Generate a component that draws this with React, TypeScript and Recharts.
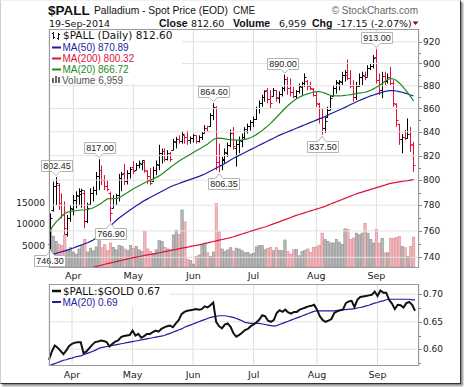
import React from 'react';
import {
  ComposedChart,
  LineChart,
  Bar,
  Line,
  XAxis,
  YAxis,
  CartesianGrid,
  ReferenceLine,
  ReferenceDot,
} from 'recharts';

// daily bars, 20-Mar-2014 .. 19-Sep-2014 (index = trading day)
const highs = [
  773.5, 798.7, 802.45, 797.4, 789.4, 783, 772.3, 780, 788, 791,
  793.4, 793, 792, 782, 793.4, 794.7, 806.6, 817, 812, 804,
  800, 790.8, 788, 789, 805, 806.6, 813.3, 808, 810.7, 815.5,
  814, 816, 816, 816, 808, 810, 811, 816, 829, 826,
  826, 824.6, 823, 834, 835.7, 837, 840, 837, 841, 836,
  838, 837, 837, 840, 845.6, 845, 856, 864.6, 862, 830,
  819, 826, 831, 842, 844, 833, 836, 838.5, 844, 847,
  850, 853, 861.5, 867, 872, 876, 878, 876, 878, 876,
  875, 879, 890, 888, 886.5, 879, 876, 882, 883.6, 891,
  885, 883.6, 878, 875, 865, 860, 852, 861.5, 871.5, 880.6,
  885, 885, 892.5, 894, 903.7, 894, 885, 883.6, 891, 892.5,
  892.5, 898.5, 900, 907.6, 913, 891, 892.5, 892.5, 891, 897,
  885, 864.5, 847, 838, 841.5, 851.4, 844, 831.6,
];
const lows = [
  746.3, 775, 780, 776.3, 769.7, 757, 755.7, 767, 772, 777.6,
  780.2, 778, 762, 766, 780, 783, 788, 792, 796, 792,
  791, 766.9, 777.6, 780, 782.9, 791, 796, 796.5, 801.3, 805,
  808, 809.5, 808, 806, 797, 796, 798.6, 804, 808, 813.5,
  815, 816, 815, 824.6, 826, 830, 830, 830, 829, 830,
  831, 830, 831, 833, 839, 840, 844, 850, 808, 806.35,
  808, 813.5, 819, 827, 825, 811, 822, 827, 833, 838.5,
  841, 844, 850, 855.7, 861.5, 866, 864.5, 860, 870.5, 866,
  864.5, 870.5, 875, 872, 870.5, 869, 869, 873, 872, 879,
  876, 876, 870.5, 861.5, 847, 837.5, 839, 852, 858.7, 870.5,
  873, 876, 880.6, 883.6, 885, 877.7, 866, 867.4, 879, 880.6,
  885, 888, 894, 895.5, 882, 871.8, 869, 880.6, 882, 880.6,
  861.5, 844.3, 829, 821.9, 833, 834.4, 823, 806.7,
];
const opens = [
  750, 776, 795, 796, 782, 773, 758, 770, 777, 784,
  787, 789, 790, 768, 781, 790, 792, 803, 808, 800,
  795, 790, 778, 786, 788, 802, 806, 799, 806, 811,
  808, 812, 813, 815, 807, 803, 799, 808, 812, 822,
  824, 817, 822, 825, 831, 834, 832, 837, 836, 833,
  835, 837, 832, 836, 839, 843, 845, 854, 861, 815,
  812, 816, 822, 829, 839, 826, 830, 832, 836, 841,
  845, 848, 851, 860, 865, 870, 876, 868, 871, 876,
  869, 873, 878, 886, 878, 874, 871, 875, 879, 882,
  884, 880, 877, 872, 864, 852, 843, 853, 859, 871,
  878, 882, 883, 890, 890, 887, 880, 870, 880, 888,
  889, 888, 896, 898, 906, 885, 876, 889, 884, 888,
  882, 864, 847, 834, 836, 835, 838, 829,
];
const closes = [
  770, 795, 798, 782, 772, 762, 770, 778, 784, 788,
  791, 792, 768, 778, 790, 792, 803, 808, 800, 795,
  793, 774, 786, 788, 802, 805, 799, 806, 809, 807,
  812, 814, 816, 808, 803, 798, 808, 813, 822, 824,
  817, 822, 817, 832, 834, 832, 838, 836, 833, 835,
  837, 832, 836, 839, 843, 841, 854, 861, 815, 812,
  817, 823, 829, 839, 828, 830, 833, 836, 842, 845,
  848, 851, 860, 865, 870, 875, 868, 865, 876, 870,
  873, 878, 886, 878, 874, 871, 875, 880, 882, 888,
  880, 878, 872, 865, 852, 843, 849, 859, 869, 878,
  883, 884, 890, 892, 887, 880, 870, 880, 888, 890,
  888, 896, 898, 905, 885, 876, 889, 884, 888, 882,
  865, 850, 834, 836, 835, 838, 829.75, 812.6,
];
const volumes = [
  8700, 7200, 6000, 5300, 5000, 7400, 4000, 4500, 3500, 3000,
  4200, 5000, 6400, 3500, 4400, 3800, 4700, 6600, 4500, 5200,
  3800, 5600, 4600, 4000, 5000, 4800, 4200, 3800, 5000, 4300,
  4800, 4000, 3600, 8300, 4200, 3600, 3200, 4000, 6200, 6000,
  4600, 4200, 4000, 7500, 8600, 7600, 13300, 10500, 1800, 1500,
  700, 2500, 2800, 5400, 5600, 3300, 2500, 3500, 14800, 8200,
  4200, 3600, 4000, 4500, 3700, 4400, 4200, 3800, 3300, 3400,
  3000, 3200, 4700, 5000, 5000, 4000, 4300, 4600, 3800, 4500,
  3900, 3800, 6300, 3600, 3000, 4000, 4100, 2600, 3600, 3900,
  4200, 3400, 4600, 4700, 5100, 7900, 6400, 6000, 5600, 5600,
  6400, 5800, 5300, 8900, 8700, 6400, 6750, 7900, 7500, 7900,
  10200, 7900, 6400, 5600, 8700, 5600, 6700, 3300, 3300, 6700,
  6700, 6900, 7100, 4800, 4500, 2500, 4800, 6959,
];
const ma20 = [
  761, 764, 767, 769, 771.5, 773.5, 774.5, 775, 775.5, 775.7, 776,
  776.2, 776.4, 776.7, 777.2, 778, 779.2, 780.6, 782, 783.6, 785, 785.4,
  785.2, 785.4, 786, 787.2, 788.6, 790, 791.5, 793, 794.2, 795.4, 796.6,
  797.8, 799, 800, 801, 802.2, 803.4, 805, 806.8, 808.6, 810.4, 812.2, 814,
  815.6, 817, 818.4, 819.8, 821.2, 822.6, 824, 825.4, 826.8, 828.2, 829.8,
  831.5, 833.5, 834.5, 834.6, 834.4, 834, 833.6, 833.4, 833.2,
  833, 833, 833.2, 833.6, 834.2, 835, 836.2, 837.6, 839.2, 841, 843, 845,
  847.2, 849.6, 852.2, 854.8, 857.4, 860, 862.4, 864.6, 866.6, 868.4, 869.8, 871,
  872, 872.8, 873.6, 874.4, 874.9, 874.8, 874.2, 873.4, 872.4, 871.6, 871.2,
  871, 871, 871.2, 871.5, 871.8, 872.2, 872.6, 873, 873.4, 873.8, 874.2,
  875, 876, 877.2, 878.6, 880.2, 882, 884, 885.6, 886.4,
  886, 884.6, 882.4, 879.8, 876.8, 873.6, 870.2, 866.72,
];
const ma50 = [
  742, 742.5, 743, 743.6, 744.2, 744.8, 745.4, 746.2, 747, 747.8, 748.6,
  749.4, 750.2, 751, 752, 753, 754.6, 756.4, 758.2, 760, 762, 764,
  766, 768, 770, 771.6, 773.2, 774.8, 776.4, 778, 779.5, 781, 782.4,
  783.8, 785, 786.2, 787.4, 788.6, 789.8, 791, 792.2, 793.4, 794.6, 795.6, 796.5,
  797.3, 798.2, 799, 799.8, 800.6, 801.4, 802.2, 803, 804, 805, 806.2,
  807.4, 808.6, 809.8, 811, 812.2, 813.6, 815, 816.4, 817.8,
  819, 820.2, 821.4, 822.6, 823.8, 825, 826.2, 827.4, 828.6, 829.8, 831, 832.2,
  833.4, 834.6, 835.8, 837, 838, 839, 840, 841, 842, 843, 844, 845,
  846, 847, 848, 849, 850, 851, 852, 853, 854.2, 855.4, 856.5,
  857.6, 858.7, 859.8, 861, 862.2, 863.4, 864.6, 865.8, 867, 868, 869,
  870, 871, 871.8, 872.6, 873.4, 874.2, 875, 875.5, 875.7,
  875.6, 875.3, 874.8, 874.2, 873.5, 872.7, 871.8, 870.89,
];
const ma200 = [
  724.5, 725, 725.6, 726.1, 726.7, 727.2, 727.8, 728.3, 728.9, 729.4, 730, 730.5, 731, 731.6,
  732.1, 732.6, 733.2, 733.7, 734.2, 734.8, 735.3, 735.8, 736.3, 736.8, 737.3, 737.8, 738.3, 738.8, 739.3, 739.8,
  740.2, 740.6, 741, 741.4, 741.8, 742.2, 742.6, 743, 743.4, 743.8, 744.2, 744.6, 745.2,
  745.6, 746, 746.5, 746.9, 747.3, 747.7, 748.2, 748.6, 749, 749.4, 749.8, 750.4,
  750.9, 751.4, 751.9, 752.4, 752.9, 753.4, 753.9, 754.4, 754.9, 755.5,
  756.2, 756.9, 757.6, 758.3, 759, 759.7, 760.4, 761.1, 761.8, 762.4, 763,
  763.8, 764.6, 765.4, 766.2, 767, 767.9, 768.7, 769.5, 770.4, 771.2, 772,
  772.7, 773.4, 774.1, 774.8, 775.5, 776.2, 776.9, 777.6, 778.3, 779,
  780, 780.9, 781.8, 782.7, 783.6, 784.5, 785.4, 786.3, 787.2, 788.1, 789,
  789.7, 790.4, 791.1, 791.8, 792.5, 793.2, 793.9, 794.6, 795.3, 796, 796.8,
  797.3, 797.7, 798.1, 798.5, 798.9, 799.3, 799.6, 800, 800.32,
];
// $PALL:$GOLD ratio and its 20-day average
const ratio = [
  0.581, 0.596, 0.607, 0.603, 0.597, 0.591, 0.598, 0.606, 0.61, 0.612,
  0.613, 0.613, 0.593, 0.596, 0.602, 0.608, 0.613, 0.614, 0.616, 0.615,
  0.613, 0.605, 0.61, 0.614, 0.616, 0.622, 0.624, 0.625, 0.626, 0.634,
  0.625, 0.628, 0.621, 0.624, 0.628, 0.628, 0.631, 0.634, 0.632, 0.637,
  0.64, 0.642, 0.643, 0.64, 0.647, 0.653, 0.664, 0.668, 0.67, 0.671,
  0.672, 0.673, 0.672, 0.673, 0.678, 0.676, 0.68, 0.685, 0.65, 0.642,
  0.638, 0.645, 0.647, 0.641, 0.629, 0.623, 0.626, 0.63, 0.635, 0.637,
  0.642, 0.645, 0.649, 0.654, 0.662, 0.66, 0.652, 0.65, 0.653, 0.666,
  0.671, 0.668, 0.672, 0.667, 0.665, 0.668, 0.668, 0.672, 0.674, 0.676,
  0.678, 0.679, 0.681, 0.672, 0.66, 0.653, 0.65, 0.652, 0.655, 0.666,
  0.669, 0.671, 0.672, 0.684, 0.687, 0.688, 0.677, 0.69, 0.695, 0.696,
  0.697, 0.698, 0.699, 0.705, 0.697, 0.707, 0.703, 0.703, 0.69, 0.683,
  0.673, 0.681, 0.68, 0.676, 0.684, 0.686, 0.681, 0.67,
];
const ratioMa20 = [
  0.57, 0.572, 0.574, 0.576, 0.578, 0.58, 0.581, 0.583, 0.584, 0.586,
  0.587, 0.588, 0.59, 0.592, 0.594, 0.596, 0.598, 0.601, 0.603, 0.604,
  0.605, 0.606, 0.607, 0.608, 0.609, 0.61, 0.611, 0.612, 0.613, 0.614,
  0.615, 0.616, 0.617, 0.618, 0.619, 0.62, 0.621, 0.622, 0.623, 0.624,
  0.625, 0.627, 0.629, 0.631, 0.633, 0.635, 0.637, 0.64, 0.642, 0.644,
  0.646, 0.648, 0.65, 0.652, 0.654, 0.656, 0.658, 0.659, 0.66, 0.661,
  0.661, 0.661, 0.66, 0.659, 0.658, 0.656, 0.654, 0.652, 0.649, 0.648,
  0.647, 0.647, 0.647, 0.647, 0.646, 0.645, 0.644, 0.643, 0.642, 0.643,
  0.645, 0.647, 0.649, 0.651, 0.653, 0.655, 0.657, 0.659, 0.661, 0.663,
  0.665, 0.667, 0.669, 0.67, 0.67, 0.67, 0.67, 0.67, 0.67, 0.67,
  0.671, 0.671, 0.672, 0.672, 0.673, 0.673, 0.674, 0.675, 0.676, 0.677,
  0.679, 0.68, 0.682, 0.684, 0.685, 0.687, 0.688, 0.69, 0.691, 0.691,
  0.691, 0.691, 0.691, 0.691, 0.691, 0.691, 0.69, 0.69,
];

const monthTicks = [8, 29, 50, 71, 93, 114];
const monthLabels = ['Apr', 'May', 'Jun', 'Jul', 'Aug', 'Sep'];
const priceTicks = [740, 760, 780, 800, 820, 840, 860, 880, 900, 920];
const priceMinorTicks = [750, 770, 790, 810, 830, 850, 870, 890, 910];
const volumeTicks = [5000, 10000, 15000];
const ratioTicks = [0.6, 0.65, 0.7];
const ratioMinorTicks = [0.575, 0.625, 0.675];

// peak / trough labels
const callouts = [
  { i: 0, side: 'low', dx: -1 },
  { i: 2, side: 'high', dx: 0 },
  { i: 17, side: 'high', dx: 0 },
  { i: 21, side: 'low', dx: 0 },
  { i: 57, side: 'high', dx: 0 },
  { i: 59, side: 'low', dx: 4 },
  { i: 82, side: 'high', dx: -2 },
  { i: 95, side: 'low', dx: 0 },
  { i: 114, side: 'high', dx: 0 },
];

const RED = '#e0103c';
const NAVY = '#1e1e9e';
const CRIMSON = '#dc143c';
const GREEN = '#228b22';
const SANS = "'Liberation Sans', Arial, sans-serif";
const VERD = "'DejaVu Sans', Verdana, sans-serif";

const priceRows = closes.map((c, i) => ({
  i,
  hl: [lows[i], highs[i]],
  h: highs[i],
  l: lows[i],
  o: opens[i],
  c,
  up: i === 0 || c >= closes[i - 1],
  vol: volumes[i],
  ma20: ma20[i],
  ma50: ma50[i],
  ma200: ma200[i],
}));

const ratioRows = ratio.map((r, i) => ({ i, r, rm: ratioMa20[i] }));

const monthName = (v: number) => monthLabels[monthTicks.indexOf(v)] ?? '';

const OhlcShape = (props: any) => {
  const { x, y, width, height, payload } = props;
  if (!payload || height == null) return null;
  const cx = Math.floor(x + width / 2) + 0.5;
  const span = Math.log(payload.h) - Math.log(payload.l);
  const at = (v: number) =>
    Math.round(span > 0 ? y + (height * (Math.log(payload.h) - Math.log(v))) / span : y) + 0.5;
  const col = payload.up ? '#000' : RED;
  return (
    <g stroke={col} strokeWidth={1}>
      <line x1={cx} x2={cx} y1={y} y2={y + height} />
      <line x1={cx - 2} x2={cx} y1={at(payload.o)} y2={at(payload.o)} />
      <line x1={cx} x2={cx + 2} y1={at(payload.c)} y2={at(payload.c)} />
    </g>
  );
};

const VolumeShape = (props: any) => {
  const { x, y, width, height, payload } = props;
  if (!payload || !height) return null;
  const up = payload.up;
  return (
    <rect
      x={x + 0.3}
      y={y}
      width={Math.max(width - 0.6, 0.5)}
      height={height}
      fill={up ? '#b9b9b9' : '#f3b8bd'}
      stroke={up ? '#8e8e8e' : '#d98a92'}
      strokeWidth={0.6}
    />
  );
};

const calloutShape = (label: string, side: string, dx: number) => (props: any) => {
  const { cx, cy } = props;
  const w = 31;
  const h = 11;
  const bx = Math.round(cx + dx - w / 2) + 0.5;
  let d: string;
  let ty: number;
  if (side === 'high') {
    const bottom = Math.round(cy - 6) + 0.5;
    const top = bottom - h;
    d = `M${bx},${top} H${bx + w} V${bottom} H${cx + 4} L${cx},${cy - 1.5} L${cx - 4},${bottom} H${bx} Z`;
    ty = top + 8.5;
  } else {
    const top = Math.round(cy + 6) + 0.5;
    d = `M${bx},${top} H${cx - 4} L${cx},${cy + 1.5} L${cx + 4},${top} H${bx + w} V${top + h} H${bx} Z`;
    ty = top + 8.5;
  }
  return (
    <g>
      <path d={d} fill="#fff" stroke="#b4b4b4" strokeWidth={1} />
      <text x={bx + w / 2} y={ty} textAnchor="middle" fontSize={9} fontFamily={SANS} fill="#222">
        {label}
      </text>
    </g>
  );
};

const axisTick = (majors: number[], fmt: (v: number) => string) => (props: any) => {
  const { x, y, payload } = props;
  const major = majors.includes(payload.value);
  const yy = Math.round(y) + 0.5;
  return (
    <g>
      <line x1={x} x2={x + (major ? 3 : 2)} y1={yy} y2={yy} stroke="#8a8a8a" />
      {major && (
        <text x={x + 4} y={y} dy="0.35em" fontSize={9} fontFamily={VERD} fill="#222">
          {fmt(payload.value)}
        </text>
      )}
    </g>
  );
};

const monthTickStyle = { fontSize: 9.5, fill: '#222', fontFamily: VERD };

export default function App() {
  return (
    <div
      style={{
        position: 'absolute',
        left: 0,
        top: 0,
        width: 464,
        height: 387,
        background: '#fff',
        overflow: 'hidden',
        fontFamily: SANS,
      }}
    >
      {/* outer frame */}
      <div
        style={{
          position: 'absolute',
          left: 0,
          top: 0,
          width: 461,
          height: 384,
          boxSizing: 'border-box',
          borderLeft: '1px solid #cfcfcf',
          borderTop: '1px solid #f0f0f0',
          borderRight: '1px solid #333',
          borderBottom: '1px solid #333',
          boxShadow: '2px 2px 2px #8a8a8a',
        }}
      />

      {/* price + volume panel */}
      <div style={{ position: 'absolute', left: 0, top: 0 }}>
        <ComposedChart
          width={464}
          height={290}
          data={priceRows}
          margin={{ top: 29, right: 5, bottom: 5, left: 0 }}
          barCategoryGap={0}
          barGap={0}
        >
          <XAxis
            xAxisId="p"
            dataKey="i"
            type="category"
            ticks={monthTicks}
            interval={0}
            tickFormatter={monthName}
            tickLine={false}
            axisLine={false}
            tickSize={0}
            tickMargin={5}
            height={18}
            padding={{ left: 0, right: 4 }}
            tick={monthTickStyle}
          />
          <XAxis xAxisId="v" dataKey="i" type="category" hide padding={{ left: 0, right: 4 }} />
          <YAxis
            yAxisId="vol"
            orientation="left"
            width={49}
            type="number"
            domain={[0, 55500]}
            ticks={volumeTicks}
            allowDataOverflow
            tickLine={false}
            axisLine={false}
            tickSize={0}
            tickMargin={4}
            tick={{ fontSize: 9, fill: '#222', fontFamily: VERD }}
          />
          <YAxis
            yAxisId="price"
            orientation="right"
            width={40}
            type="number"
            scale="log"
            domain={[732.79, 931.88]}
            ticks={[...priceTicks, ...priceMinorTicks]}
            interval={0}
            allowDataOverflow
            tickLine={false}
            axisLine={false}
            tickSize={0}
            tickMargin={0}
            tick={axisTick(priceTicks, (v) => String(v))}
          />
          <CartesianGrid xAxisId="p" yAxisId="price" horizontal={false} stroke="#dedede" />
          {priceTicks.map((t) => (
            <ReferenceLine key={t} xAxisId="p" yAxisId="price" y={t} stroke="#e2e2e2" />
          ))}
          <Bar xAxisId="v" yAxisId="vol" dataKey="vol" shape={VolumeShape} isAnimationActive={false} />
          <Bar xAxisId="p" yAxisId="price" dataKey="hl" shape={OhlcShape} isAnimationActive={false} />
          <Line xAxisId="p" yAxisId="price" dataKey="ma200" stroke={CRIMSON} strokeWidth={1.2} dot={false} isAnimationActive={false} />
          <Line xAxisId="p" yAxisId="price" dataKey="ma50" stroke={NAVY} strokeWidth={1.2} dot={false} isAnimationActive={false} />
          <Line xAxisId="p" yAxisId="price" dataKey="ma20" stroke={GREEN} strokeWidth={1.2} dot={false} isAnimationActive={false} />
          {callouts.map((c) => {
            const v = c.side === 'high' ? highs[c.i] : lows[c.i];
            return (
              <ReferenceDot
                key={c.i}
                xAxisId="p"
                yAxisId="price"
                x={c.i}
                y={v}
                r={0}
                ifOverflow="visible"
                shape={calloutShape(v.toFixed(2), c.side, c.dx)}
              />
            );
          })}
        </ComposedChart>
      </div>

      {/* ratio panel */}
      <div style={{ position: 'absolute', left: 0, top: 280 }}>
        <LineChart width={464} height={105} data={ratioRows} margin={{ top: 4, right: 5, bottom: 5, left: 49 }}>
          <XAxis
            dataKey="i"
            type="category"
            ticks={monthTicks}
            interval={0}
            tickFormatter={monthName}
            tickLine={false}
            axisLine={false}
            tickSize={0}
            tickMargin={5}
            height={14}
            padding={{ left: 0, right: 4 }}
            tick={monthTickStyle}
          />
          <YAxis
            orientation="right"
            width={40}
            type="number"
            domain={[0.5696, 0.7187]}
            ticks={[...ratioTicks, ...ratioMinorTicks]}
            interval={0}
            allowDataOverflow
            tickLine={false}
            axisLine={false}
            tickSize={0}
            tickMargin={0}
            tick={axisTick(ratioTicks, (v) => v.toFixed(2))}
          />
          <CartesianGrid horizontal={false} stroke="#dedede" />
          {ratioTicks.map((t) => (
            <ReferenceLine key={t} y={t} stroke="#e2e2e2" />
          ))}
          <Line dataKey="rm" stroke={NAVY} strokeWidth={1.2} dot={false} isAnimationActive={false} />
          <Line dataKey="r" stroke="#111" strokeWidth={2} dot={false} isAnimationActive={false} />
        </LineChart>
      </div>

      {/* titles, legends and panel frames */}
      <svg width={464} height={387} style={{ position: 'absolute', left: 0, top: 0, pointerEvents: 'none' }}>
        <text x={48} y={15} fontFamily={SANS} fontWeight="bold" fontSize={13.5} fill="#111">$PALL</text>
        <text x={94} y={13.5} fontFamily={SANS} fontSize={10.3} fill="#111">Palladium - Spot Price (EOD)</text>
        <text x={233} y={13.5} fontFamily={SANS} fontSize={10} fill="#222">CME</text>
        <text x={418} y={13.5} textAnchor="end" fontFamily={SANS} fontSize={10} fill="#666">© StockCharts.com</text>

        <text x={49} y={26.5} fontFamily={VERD} fontSize={9.5} fill="#111">19-Sep-2014</text>
        <text x={159} y={26.5} fontFamily={SANS} fontWeight="bold" fontSize={10.5} fill="#111">Close</text>
        <text x={191} y={26.5} fontFamily={VERD} fontSize={9.5} fill="#111">812.60</text>
        <text x={233} y={26.5} fontFamily={SANS} fontWeight="bold" fontSize={10.5} fill="#111">Volume</text>
        <text x={279} y={26.5} fontFamily={VERD} fontSize={9.5} fill="#111">6,959</text>
        <text x={312} y={26.5} fontFamily={SANS} fontWeight="bold" fontSize={10.5} fill="#111">Chg</text>
        <text x={337} y={26.5} fontFamily={VERD} fontSize={9.5} fill="#111">-17.15 (-2.07%)</text>
        <path d="M412.5,21.5 L418.5,21.5 L415.5,25 Z" fill="#99002e" />

        {/* main legend */}
        <rect x={50} y={30} width={132} height={53} fill="#fff" />
        <g stroke="#111" strokeWidth={1}>
          <line x1={53.5} x2={53.5} y1={32} y2={39} />
          <line x1={52} x2={53.5} y1={33.5} y2={33.5} />
          <line x1={53.5} x2={55} y1={37.5} y2={37.5} />
          <line x1={58.5} x2={58.5} y1={33} y2={40} />
          <line x1={57} x2={58.5} y1={38.5} y2={38.5} />
          <line x1={58.5} x2={60} y1={34.5} y2={34.5} />
        </g>
        <text x={63} y={39.3} fontFamily={VERD} fontSize={10.5} fill="#111">$PALL (Daily) 812.60</text>
        <line x1={52} x2={61} y1={47.5} y2={47.5} stroke={NAVY} strokeWidth={2} />
        <text x={62.5} y={50.7} fontFamily={SANS} fontSize={10} fill={NAVY}>MA(50) 870.89</text>
        <line x1={52} x2={61} y1={58.5} y2={58.5} stroke={CRIMSON} strokeWidth={2} />
        <text x={62.5} y={61.7} fontFamily={SANS} fontSize={10} fill={CRIMSON}>MA(200) 800.32</text>
        <line x1={52} x2={61} y1={69.5} y2={69.5} stroke={GREEN} strokeWidth={2} />
        <text x={62.5} y={72.9} fontFamily={SANS} fontSize={10} fill={GREEN}>MA(20) 866.72</text>
        <g fill="#666">
          <rect x={52} y={78} width={2} height={5} />
          <rect x={55} y={76} width={2} height={7} />
          <rect x={58} y={77} width={2} height={6} />
        </g>
        <text x={62} y={83.5} fontFamily={SANS} fontSize={10} fill="#555">Volume 6,959</text>

        {/* ratio legend */}
        <rect x={50} y={285} width={120} height={22} fill="#fff" />
        <line x1={52} x2={61} y1={291} y2={291} stroke="#111" strokeWidth={2.5} />
        <text x={63} y={294.5} fontFamily={VERD} fontSize={10.4} fill="#111">$PALL:$GOLD 0.67</text>
        <line x1={52} x2={61} y1={302} y2={302} stroke={NAVY} strokeWidth={2} />
        <text x={62.5} y={305.5} fontFamily={SANS} fontSize={10} fill={NAVY}>MA(20) 0.69</text>

        <rect x={49.5} y={29.5} width={369} height={238} fill="none" stroke="#9a9a9a" />
        <rect x={49.5} y={284.5} width={369} height={81} fill="none" stroke="#9a9a9a" />
      </svg>
    </div>
  );
}
